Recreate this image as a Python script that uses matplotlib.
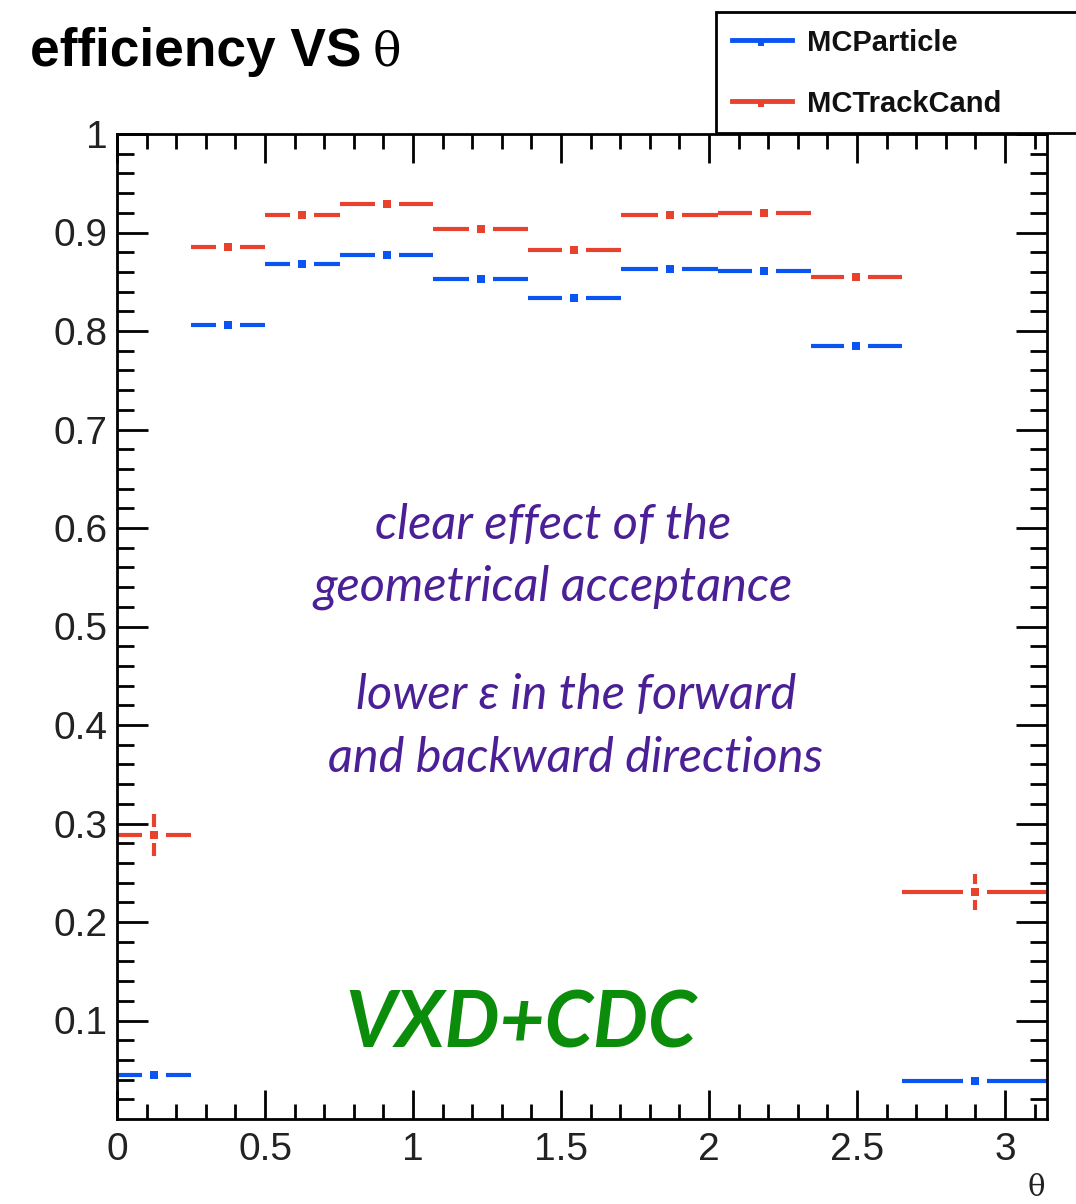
import numpy as np
import matplotlib
matplotlib.use("Agg")
import matplotlib.pyplot as plt
from matplotlib.lines import Line2D
from matplotlib.patches import Rectangle

# theta bin edges (rad)
edges = [0.0, 0.25, 0.50, 0.753, 1.069, 1.387, 1.703, 2.030, 2.344, 2.652, np.pi]

eff_particle = [0.045, 0.806, 0.8685, 0.877, 0.8526, 0.8332, 0.8634, 0.8607, 0.7844, 0.0387]
err_particle = [0.006, 0.004, 0.003, 0.003, 0.003, 0.003, 0.003, 0.003, 0.004, 0.005]
eff_cand = [0.2882, 0.885, 0.9177, 0.9285, 0.904, 0.8824, 0.9176, 0.9203, 0.8553, 0.2303]
err_cand = [0.0214, 0.004, 0.003, 0.003, 0.003, 0.003, 0.003, 0.003, 0.004, 0.0185]

series = [("MCParticle", eff_particle, err_particle, "#0a55f2"),
          ("MCTrackCand", eff_cand, err_cand, "#e8412e")]

W, H = 1076, 1204
fig = plt.figure(figsize=(W / 100, H / 100), dpi=100)
ax = fig.add_axes([117 / W, 1 - 1119 / H, 930 / W, 985 / H])
ax.set_xlim(0, np.pi)
ax.set_ylim(0, 1)

# pixel -> data conversions for the gaps around the markers
px_x = (ax.get_xlim()[1] - ax.get_xlim()[0]) / 930
px_y = (ax.get_ylim()[1] - ax.get_ylim()[0]) / 985
gap_x = 12 * px_x
gap_y = 8 * px_y

lo = np.array(edges[:-1])
hi = np.array(edges[1:])
mid = 0.5 * (lo + hi)

for name, eff, err, col in series:
    eff = np.array(eff)
    err = np.array(err)
    ax.hlines(eff, lo, mid - gap_x, color=col, lw=3, capstyle="butt")
    ax.hlines(eff, mid + gap_x, hi, color=col, lw=3, capstyle="butt")
    big = err > gap_y
    ax.vlines(mid[big], eff[big] + gap_y, eff[big] + err[big], color=col, lw=3, capstyle="butt")
    ax.vlines(mid[big], eff[big] - err[big], eff[big] - gap_y, color=col, lw=3, capstyle="butt")
    ax.plot(mid, eff, "s", color=col, ms=6.2, mew=0)

# ROOT-style frame and ticks
for s in ax.spines.values():
    s.set_linewidth(2)
ax.set_xticks([0, 0.5, 1, 1.5, 2, 2.5, 3])
ax.set_xticklabels(["0", "0.5", "1", "1.5", "2", "2.5", "3"])
ax.set_xticks(np.arange(0.1, 3.15, 0.1), minor=True)
ax.set_yticks([0.1, 0.2, 0.3, 0.4, 0.5, 0.6, 0.7, 0.8, 0.9, 1.0])
ax.set_yticklabels(["0.1", "0.2", "0.3", "0.4", "0.5", "0.6", "0.7", "0.8", "0.9", "1"])
ax.set_yticks(np.arange(0.02, 1.0, 0.02), minor=True)
ax.tick_params(which="both", direction="in", top=True, right=True, width=2, color="black")
ax.tick_params(axis="x", which="major", length=21, pad=9)
ax.tick_params(axis="x", which="minor", length=11)
ax.tick_params(axis="y", which="major", length=22, pad=7)
ax.tick_params(axis="y", which="minor", length=12)
for lab in ax.get_xticklabels() + ax.get_yticklabels():
    lab.set_fontfamily("Liberation Sans")
    lab.set_fontsize(28)
    lab.set_color("#222222")

fig.text(1036 / W, 1 - 1188 / H, "θ", ha="center", va="center",
         fontsize=21, family="DejaVu Serif", color="#222222")

# title
fig.text(30 / W, 1 - 66 / H, "efficiency VS", fontsize=38.3, fontweight="bold",
         family="Liberation Sans", va="baseline", ha="left")
fig.text(373 / W, 1 - 66 / H, "θ", fontsize=34, family="DejaVu Serif", va="baseline", ha="left")

# legend box
fig.patches.append(Rectangle((716 / W, 1 - 133 / H), 400 / W, 121 / H, transform=fig.transFigure,
                             fill=False, ec="black", lw=2, zorder=5))
for (name, _, _, col), yp in zip(series, [40, 101]):
    fig.lines.append(Line2D([732 / W, 792 / W], [1 - yp / H] * 2, transform=fig.transFigure,
                            color=col, lw=3.5))
    fig.lines.append(Line2D([761 / W], [1 - (yp + 3) / H], transform=fig.transFigure,
                            marker="s", ms=4, mew=0, color=col))
    fig.text(807 / W, 1 - (yp + 3) / H, name, fontsize=21, fontweight="bold",
             family="Liberation Sans", va="center", ha="left", color="#111111")

# annotations
purple = "#4b1f96"
ann = dict(ha="center", va="center", color=purple, family="Lato", style="italic", fontsize=35)
ax.text(1.473, (1119 - 525) / 985, "clear effect of the", **ann)
ax.text(1.473, (1119 - 587) / 985, "geometrical acceptance", **ann)
ax.text(1.55, (1119 - 695) / 985, "lower ε in the forward", **ann)
ax.text(1.55, (1119 - 758) / 985, "and backward directions", **ann)
ax.text(1.365, (1119 - 1025) / 985, "VXD+CDC", ha="center", va="center", color="#0b8c0b",
        family="Lato", style="italic", fontweight="bold", fontsize=56)

fig.savefig("out.png", dpi=100)
